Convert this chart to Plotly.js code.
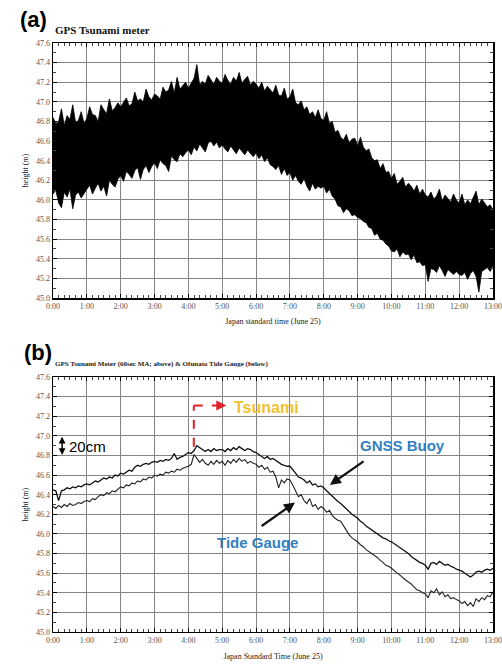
<!DOCTYPE html>
<html><head><meta charset="utf-8">
<script src="https://cdn.plot.ly/plotly-3.0.1.min.js"></script>
<style>html,body{margin:0;padding:0;background:#fff}#chart{width:502px;height:664px}</style>
</head><body><div id="chart"></div><script>
const hourTicks = [0,1,2,3,4,5,6,7,8,9,10,11,12,13];
const hourLabels = ["0:00","1:00","2:00","3:00","4:00","5:00","6:00","7:00","8:00","9:00","10:00","11:00","12:00","13:00"];
const heightTicks = [45.0,45.2,45.4,45.6,45.8,46.0,46.2,46.4,46.6,46.8,47.0,47.2,47.4,47.6];
const heightLabels = ["45.0","45.2","45.4","45.6","45.8","46.0","46.2","46.4","46.6","46.8","47.0","47.2","47.4","47.6"];

// (a) GPS Tsunami meter, raw: upper / lower edge of the dense trace, 5-min steps from 0:00
const upperEnvelope = [
46.84,46.78,46.80,46.93,46.76,46.86,46.82,46.97,46.79,46.81,46.90,46.78,
46.83,46.95,46.87,46.86,46.80,46.97,46.92,46.88,47.03,46.91,46.94,46.99,
46.95,46.99,47.04,46.96,46.98,47.10,47.01,47.03,47.00,47.13,47.05,47.02,
47.08,47.06,47.03,47.15,47.10,47.12,47.21,47.09,47.25,47.13,47.16,47.20,
47.14,47.19,47.24,47.38,47.17,47.21,47.18,47.27,47.22,47.18,47.25,47.21,
47.19,47.28,47.22,47.18,47.25,47.21,47.30,47.19,47.23,47.26,47.17,47.21,
47.18,47.14,47.20,47.11,47.16,47.13,47.09,47.17,47.07,47.06,47.14,47.03,
47.05,47.13,46.99,46.97,47.01,46.92,46.95,46.87,46.90,46.84,46.92,46.83,
46.81,46.90,46.78,46.80,46.69,46.71,46.64,46.61,46.67,46.58,46.62,46.63,
46.55,46.64,46.54,46.50,46.52,46.43,46.40,46.41,46.32,46.37,46.28,46.29,
46.22,46.27,46.16,46.19,46.23,46.13,46.17,46.14,46.09,46.15,46.06,46.11,
46.05,46.03,46.08,46.01,46.04,46.11,45.99,46.05,46.02,45.98,46.06,46.00,
45.97,46.06,45.95,46.00,45.96,46.03,46.09,45.95,46.01,45.97,45.93,45.95,
45.90];
const lowerEnvelope = [
46.06,46.10,45.97,45.92,46.08,46.03,46.11,45.91,46.05,46.08,46.02,46.07,
46.11,46.15,46.06,46.12,46.17,46.09,46.14,46.04,46.20,46.16,46.13,46.21,
46.25,46.19,46.29,46.26,46.22,46.30,46.33,46.21,46.31,46.35,46.28,46.34,
46.38,46.32,46.41,46.37,46.35,46.29,46.45,46.41,46.39,46.47,46.44,46.48,
46.51,46.46,46.54,46.50,46.57,46.53,46.49,46.58,46.60,46.55,46.59,46.53,
46.56,46.52,46.49,46.55,46.51,46.47,46.53,46.50,46.46,46.51,46.48,46.44,
46.48,46.42,46.46,46.39,46.43,46.36,46.34,46.31,46.35,46.26,46.32,46.25,
46.28,46.20,46.25,46.19,46.16,46.22,46.14,46.09,46.17,46.11,46.14,46.12,
46.14,46.07,46.11,46.04,46.01,45.94,45.93,45.87,45.91,45.89,45.84,45.85,
45.82,45.81,45.78,45.77,45.72,45.71,45.64,45.66,45.60,45.59,45.55,45.53,
45.48,45.47,45.50,45.42,45.47,45.44,45.45,45.39,45.44,45.36,45.37,45.33,
45.34,45.17,45.30,45.29,45.26,45.33,45.28,45.22,45.29,45.26,45.24,45.27,
45.24,45.23,45.26,45.19,45.25,45.28,45.22,45.06,45.27,45.29,45.31,45.27,
45.33];

// (b) GNSS buoy (60 s MA) and Ofunato tide gauge, 5-min steps from 0:00
const gnssBuoy = [
46.45,46.44,46.34,46.44,46.45,46.47,46.46,46.48,46.47,46.49,46.48,46.50,
46.51,46.50,46.52,46.54,46.53,46.55,46.57,46.56,46.58,46.57,46.60,46.59,
46.62,46.61,46.63,46.65,46.64,46.68,46.70,46.69,46.71,46.72,46.71,46.73,
46.74,46.73,46.75,46.74,46.76,46.75,46.77,46.82,46.76,46.78,46.79,46.81,
46.83,46.82,46.85,46.90,46.88,46.86,46.84,46.86,46.84,46.87,46.85,46.86,
46.86,46.84,46.87,46.85,46.88,46.86,46.89,46.87,46.85,46.87,46.86,46.84,
46.83,46.81,46.79,46.77,46.79,46.76,46.77,46.75,46.73,46.71,46.70,46.69,
46.69,46.66,46.62,46.58,46.57,46.55,46.52,46.54,46.50,46.51,46.48,46.49,
46.47,46.44,46.41,46.38,46.36,46.33,46.31,46.28,46.26,46.22,46.20,46.18,
46.16,46.13,46.11,46.08,46.06,46.04,46.02,46.00,45.98,45.96,45.95,45.93,
45.92,45.90,45.88,45.86,45.84,45.82,45.80,45.77,45.75,45.73,45.71,45.70,
45.68,45.64,45.70,45.71,45.69,45.72,45.70,45.68,45.69,45.67,45.66,45.64,
45.63,45.62,45.60,45.58,45.56,45.58,45.61,45.62,45.61,45.63,45.64,45.63,
45.65];
const tideGauge = [
46.28,46.26,46.29,46.27,46.30,46.28,46.31,46.29,46.30,46.32,46.31,46.33,
46.34,46.33,46.36,46.35,46.38,46.40,46.39,46.42,46.41,46.44,46.43,46.46,
46.48,46.47,46.50,46.49,46.52,46.51,46.54,46.53,46.56,46.55,46.58,46.57,
46.60,46.59,46.61,46.60,46.63,46.62,46.64,46.63,46.66,46.65,46.67,46.68,
46.69,46.71,46.81,46.77,46.73,46.76,46.72,46.70,46.74,46.71,46.75,46.72,
46.74,46.70,46.75,46.72,46.76,46.73,46.77,46.74,46.76,46.72,46.74,46.72,
46.71,46.68,46.70,46.66,46.68,46.63,46.64,46.58,46.47,46.55,46.52,46.56,
46.55,46.50,46.44,46.38,46.40,46.34,46.31,46.36,46.28,46.30,46.25,46.28,
46.26,46.22,46.24,46.19,46.16,46.14,46.13,46.08,46.04,45.99,45.96,45.94,
45.92,45.89,45.87,45.84,45.82,45.80,45.78,45.76,45.73,45.71,45.68,45.67,
45.65,45.62,45.60,45.58,45.55,45.53,45.51,45.49,45.46,45.43,45.42,45.40,
45.39,45.35,45.42,45.40,45.44,45.38,45.41,45.36,45.38,45.34,45.35,45.33,
45.32,45.29,45.31,45.27,45.30,45.26,45.34,45.31,45.35,45.33,45.37,45.36,
45.41];

const times = upperEnvelope.map((_, i) => i / 12);

const SERIF = 'Liberation Serif, DejaVu Serif, serif';
const SANS = 'Liberation Sans, Arial, sans-serif';

function xAxis(anchor) {
  return {
    anchor: anchor, domain: [0, 1], range: [0, 13],
    tickmode: 'array', tickvals: hourTicks, ticktext: hourLabels,
    ticklabeloverflow: 'allow',
    showgrid: true, gridcolor: '#858585', gridwidth: 1,
    showline: true, linecolor: '#000', linewidth: 1.5, mirror: 'allticks',
    ticks: 'inside', ticklen: 4, tickcolor: '#000',
    tickfont: {family: SERIF, size: 8, color: '#555'},
    minor: {tickmode: 'linear', tick0: 0, dtick: 1/6, ticks: 'inside', ticklen: 3, tickcolor: '#444', showgrid: false},
    zeroline: false, fixedrange: true
  };
}
function yAxis(anchor, domain) {
  return {
    anchor: anchor, domain: domain, range: [45, 47.6],
    tickmode: 'array', tickvals: heightTicks, ticktext: heightLabels,
    showgrid: true, gridcolor: '#858585', gridwidth: 1,
    showline: true, linecolor: '#000', linewidth: 1.5, mirror: 'allticks',
    ticks: 'inside', ticklen: 4, tickcolor: '#000',
    tickfont: {family: SERIF, size: 8, color: '#555'},
    minor: {tickmode: 'linear', tick0: 45, dtick: 0.1, ticks: 'inside', ticklen: 3, tickcolor: '#444', showgrid: false},
    zeroline: false, fixedrange: true,
    title: {text: 'height (m)', font: {family: SERIF, size: 8, color: '#222'}, standoff: 6}
  };
}

const traces = [
  {x: times, y: upperEnvelope, xaxis: 'x', yaxis: 'y', mode: 'lines', line: {color: '#000', width: 0.8}, hoverinfo: 'skip'},
  {x: times, y: lowerEnvelope, xaxis: 'x', yaxis: 'y', mode: 'lines', line: {color: '#000', width: 0.8}, fill: 'tonexty', fillcolor: '#000', hoverinfo: 'skip'},
  {x: times, y: gnssBuoy, xaxis: 'x2', yaxis: 'y2', mode: 'lines', line: {color: '#111', width: 1.3}, name: 'GNSS Buoy'},
  {x: times, y: tideGauge, xaxis: 'x2', yaxis: 'y2', mode: 'lines', line: {color: '#222', width: 1.1}, name: 'Tide Gauge'}
];

const xa = xAxis('y');
xa.title = {text: 'Japan standard time (June 25)', font: {family: SERIF, size: 8, color: '#222'}, standoff: 8};
const xb = xAxis('y2');
xb.title = {text: 'Japan Standard Time (June 25)', font: {family: SERIF, size: 8, color: '#222'}, standoff: 9};

const blue = '#2f80c2';
const layout = {
  width: 502, height: 664,
  margin: {l: 53, r: 9, t: 0, b: 0},
  paper_bgcolor: '#fff', plot_bgcolor: '#fff',
  showlegend: false,
  xaxis: xa,
  yaxis: yAxis('x', [0.5512, 0.9352]),
  xaxis2: xb,
  yaxis2: yAxis('x2', [0.0482, 0.4322]),
  shapes: [
    {type: 'line', xref: 'x2', yref: 'y2', x0: 4.16, y0: 46.89, x1: 4.16, y1: 47.31, line: {color: '#e0202a', width: 2, dash: 'dash'}},
    {type: 'line', xref: 'x2', yref: 'y2', x0: 4.16, y0: 47.31, x1: 4.95, y1: 47.31, line: {color: '#e0202a', width: 2, dash: 'dash'}}
  ],
  annotations: [
    {xref: 'paper', yref: 'paper', x: -0.08, y: 1 - 19/664, xanchor: 'left', yanchor: 'middle', text: '<b>(a)</b>', showarrow: false, font: {family: SANS, size: 22, color: '#000'}},
    {xref: 'paper', yref: 'paper', x: 0, y: 1 - 30/664, xanchor: 'left', yanchor: 'middle', text: '<b>GPS Tsunami meter</b>', showarrow: false, font: {family: SERIF, size: 11, color: '#111'}},
    {xref: 'paper', yref: 'paper', x: -0.07, y: 1 - 353/664, xanchor: 'left', yanchor: 'middle', text: '<b>(b)</b>', showarrow: false, font: {family: SANS, size: 22, color: '#000'}},
    {xref: 'paper', yref: 'paper', x: 0, y: 1 - 364/664, xanchor: 'left', yanchor: 'middle', text: '<b>GPS Tsunami Meter (60sec MA; above) &amp; Ofunato Tide Gauge (below)</b>', showarrow: false, font: {family: SERIF, size: 7, color: '#222'}},
    {xref: 'x2', yref: 'y2', axref: 'x2', ayref: 'y2', x: 0.27, y: 46.99, ax: 0.27, ay: 46.79, text: '', showarrow: true, arrowhead: 2, arrowside: 'end+start', arrowsize: 0.9, arrowwidth: 1.5, arrowcolor: '#000'},
    {xref: 'x2', yref: 'y2', x: 0.42, y: 46.89, xanchor: 'left', yanchor: 'middle', text: '20cm', showarrow: false, font: {family: SANS, size: 15, color: '#000'}},
    {xref: 'x2', yref: 'y2', axref: 'x2', ayref: 'y2', x: 5.12, y: 47.31, ax: 4.9, ay: 47.31, text: '', showarrow: true, arrowhead: 2, arrowsize: 1, arrowwidth: 2, arrowcolor: '#e0202a'},
    {xref: 'x2', yref: 'y2', x: 5.28, y: 47.29, xanchor: 'left', yanchor: 'middle', text: '<b>Tsunami</b>', showarrow: false, font: {family: SANS, size: 16, color: '#f2c12e'}},
    {xref: 'x2', yref: 'y2', x: 10.34, y: 46.9, xanchor: 'center', yanchor: 'middle', text: '<b>GNSS Buoy</b>', showarrow: false, font: {family: SANS, size: 15, color: blue}},
    {xref: 'x2', yref: 'y2', axref: 'x2', ayref: 'y2', x: 8.18, y: 46.5, ax: 9.22, ay: 46.75, text: '', showarrow: true, arrowhead: 2, arrowsize: 1, arrowwidth: 2.2, arrowcolor: '#111'},
    {xref: 'x2', yref: 'y2', x: 6.03, y: 45.91, xanchor: 'center', yanchor: 'middle', text: '<b>Tide Gauge</b>', showarrow: false, font: {family: SANS, size: 15, color: blue}},
    {xref: 'x2', yref: 'y2', axref: 'x2', ayref: 'y2', x: 7.15, y: 46.32, ax: 6.12, ay: 46.07, text: '', showarrow: true, arrowhead: 2, arrowsize: 1, arrowwidth: 2.2, arrowcolor: '#111'}
  ]
};

Plotly.newPlot('chart', traces, layout, {displayModeBar: false, staticPlot: true});
</script></body></html>
